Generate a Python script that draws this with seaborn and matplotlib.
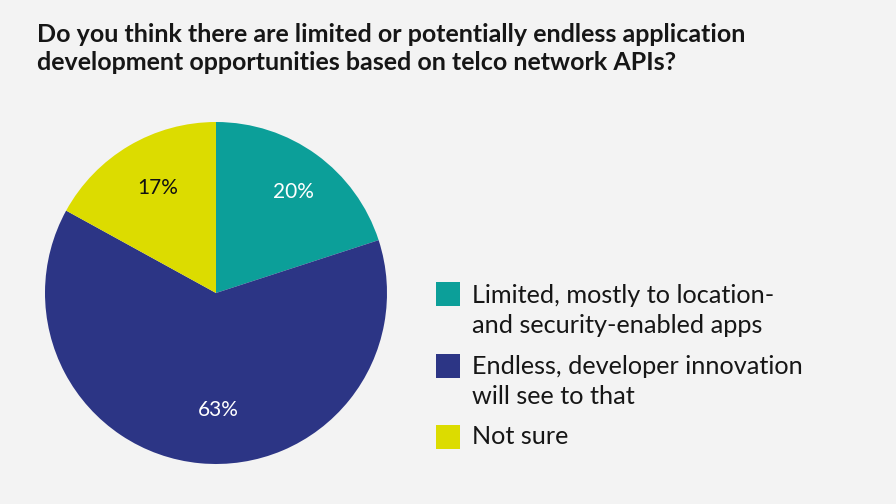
import matplotlib
matplotlib.use("Agg")
import matplotlib.pyplot as plt
import seaborn as sns
from matplotlib.patches import Rectangle

categories = ["Limited, mostly to location-\nand security-enabled apps",
              "Endless, developer innovation\nwill see to that",
              "Not sure"]
values = [20, 63, 17]
colors = ["#0c9f99", "#2c3585", "#dcdc00"]
label_colors = ["white", "white", "#111111"]
title = ("Do you think there are limited or potentially endless application\n"
         "development opportunities based on telco network APIs?")

sns.set_theme(style="white")
plt.rcParams["font.family"] = ["Lato", "DejaVu Sans"]
bg = "#f3f3f3"

W, H = 896, 504
fig = plt.figure(figsize=(W / 100, H / 100), dpi=100, facecolor=bg)

cx, cy, r = 216, 293, 171
ax = fig.add_axes([(cx - r) / W, (H - cy - r) / H, 2 * r / W, 2 * r / H])
ax.set_facecolor(bg)
wedges, texts, autotexts = ax.pie(
    values, colors=colors, startangle=90, counterclock=False,
    autopct="%d%%", pctdistance=0.72, radius=1.0,
    wedgeprops=dict(linewidth=0))
# small label nudges in pixels (layout only)
nudges = [(5, 1.5), (14, 6), (4, -1)]
for t, c, (dx, dy) in zip(autotexts, label_colors, nudges):
    t.set_color(c)
    t.set_fontsize(15)
    x, y = t.get_position()
    t.set_position((x + dx / r, y + dy / r))
ax.set_xlim(-1, 1)
ax.set_ylim(-1, 1)
ax.set_aspect("equal")
ax.axis("off")

# title: one text per line, positioned by baseline
title_baselines = [42, 70]
for line, b in zip(title.split("\n"), title_baselines):
    fig.text(37 / W, 1 - b / H, line, fontsize=18, fontweight="bold",
             color="#161616", va="baseline", ha="left")

# legend
sq_x, sq_size = 436, 24
sq_tops = [282, 354, 425]
first_baselines = [303, 374, 444]
line_gap = 30
txt_x = 472
for lab, col, top, b0 in zip(categories, colors, sq_tops, first_baselines):
    fig.patches.append(Rectangle((sq_x / W, 1 - (top + sq_size) / H), sq_size / W, sq_size / H,
                                 transform=fig.transFigure, facecolor=col, edgecolor="none"))
    for i, line in enumerate(lab.split("\n")):
        fig.text(txt_x / W, 1 - (b0 + i * line_gap) / H, line, fontsize=18.2,
                 color="#161616", va="baseline", ha="left")

fig.savefig("out.png", dpi=100, facecolor=bg)
